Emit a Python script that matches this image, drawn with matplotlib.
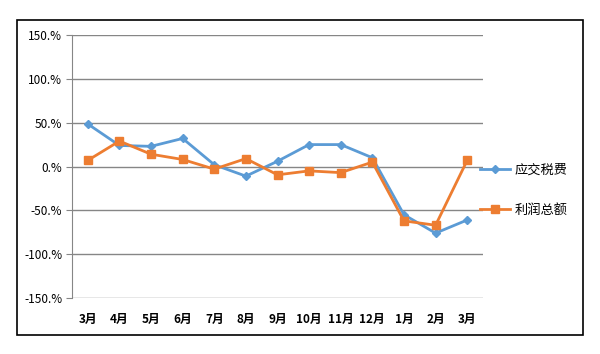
import matplotlib
matplotlib.use('Agg')
import matplotlib.pyplot as plt
from matplotlib.patches import Rectangle

plt.rcParams['font.family'] = ['Noto Sans CJK SC', 'DejaVu Sans']

months = ['3月', '4月', '5月', '6月', '7月', '8月', '9月', '10月', '11月', '12月', '1月', '2月', '3月']
tax = [48.5, 24, 23, 32, 2, -11, 6, 25, 25, 10, -55, -76, -61]
profit = [7, 29, 14, 8, -3, 9, -9.5, -5, -7, 5, -62, -67, 7]
yticks = [-150, -100, -50, 0, 50, 100, 150]
ytick_labels = ['-150.%', '-100.%', '-50.%', '0.%', '50.%', '100.%', '150.%']

fig = plt.figure(figsize=(6, 3.54), dpi=100)
fig.patches.append(Rectangle((17 / 600, 1 - 335 / 354), 566 / 600, 315 / 354,
                             transform=fig.transFigure, fill=False,
                             edgecolor='black', linewidth=1.2))
ax = fig.add_axes([72 / 600, 1 - 298 / 354, 411 / 600, 263 / 354])

x = list(range(len(months)))
ax.plot(x, tax, color='#5B9BD5', marker='D', markersize=4.5, linewidth=2, label='应交税费')
ax.plot(x, profit, color='#ED7D31', marker='s', markersize=6, linewidth=2, label='利润总额')

ax.set_xlim(-0.5, len(months) - 0.5)
ax.set_ylim(-150, 150)
ax.set_yticks(yticks)
ax.set_yticklabels(ytick_labels, fontsize=8.5)
ax.set_xticks(x)
ax.set_xticklabels(months, fontsize=8.5, fontweight='bold')
ax.tick_params(axis='x', length=0, pad=11)
ax.tick_params(axis='y', length=4, color='#868686', pad=3, direction='out')
ax.grid(axis='y', color='#868686', linewidth=1)
for s in ['top', 'right', 'bottom']:
    ax.spines[s].set_visible(False)
ax.spines['left'].set_color('#868686')

ax.legend(loc='center left', bbox_to_anchor=(0.965, 0.41), frameon=False,
          fontsize=9.5, handlelength=2.2, labelspacing=2.1, handletextpad=0.4)

fig.savefig('out.png', dpi=100)
